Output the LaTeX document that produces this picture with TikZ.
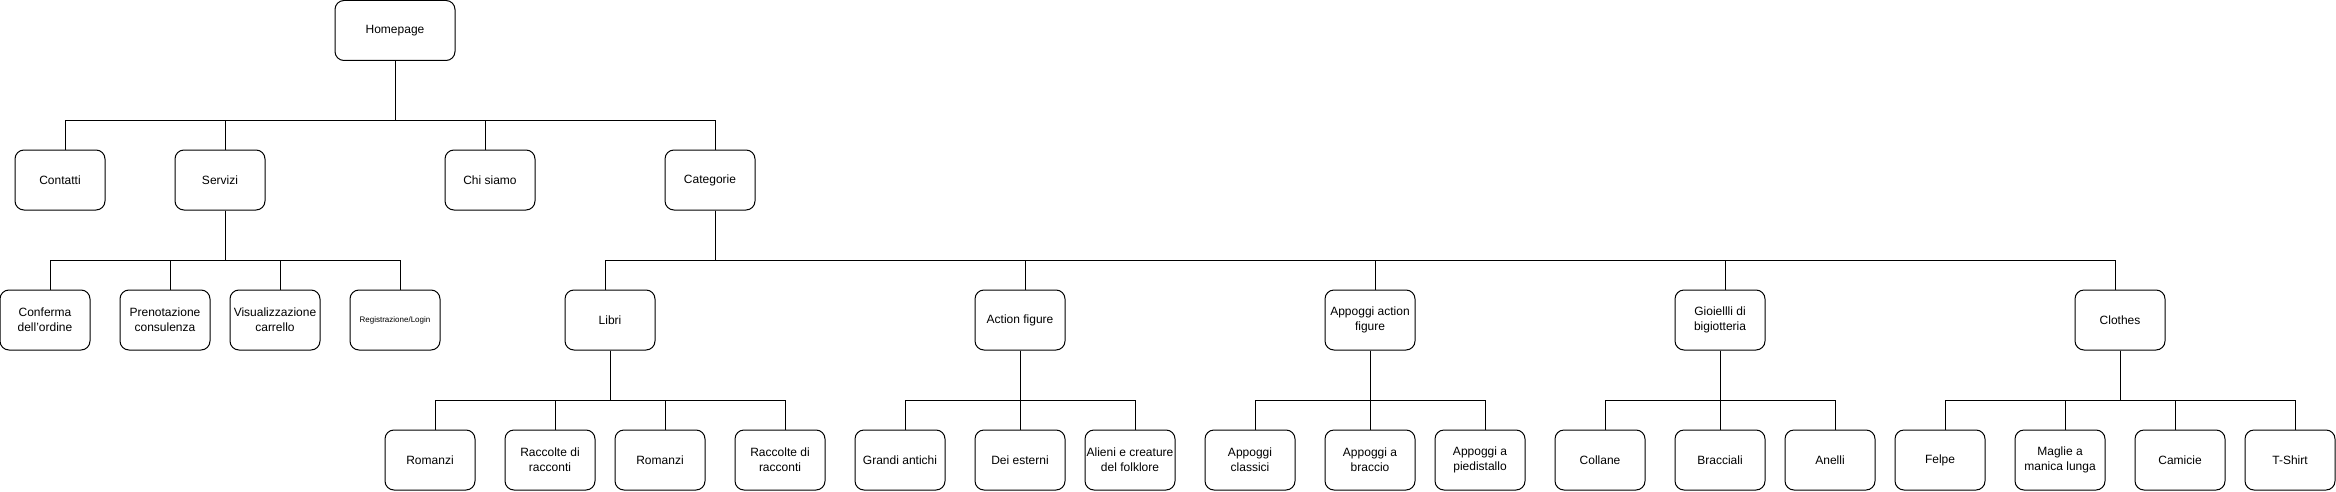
\documentclass[tikz,border=0pt]{standalone}
\usepackage{fontspec}
\setmainfont{Liberation Sans}
\usetikzlibrary{positioning}

\begin{document}
\begin{tikzpicture}[x=1pt, y=-1pt, align=center]
    \tikzset{
        n/.style        =   { rectangle
                            , rounded corners=9pt
                            , text centered
                            , draw=black
                            , line width=1pt
                            , inner sep=1pt
                            , minimum width=90pt
                            , minimum height=60pt
                            , font=\fontsize{12}{15}\selectfont
        }
        , wide/.style   =   { n
                            , minimum width=120pt
        }
        , conn/.style   =   { line width=1pt
                            , draw=black
        }
    }
    \useasboundingbox (0,0) rectangle (2336,492);

    % root and first level
    \node(0)[wide] at (395,30.5) {Homepage};
    \node(1)[n] at (60,180)  {Contatti};
    \node(2)[n] at (220,180) {Servizi};
    \node(3)[n] at (490,180) {Chi siamo};
    \node(4)[n] at (710,180) {Categorie};

    % second level
    \node(5)[n]  at (45,320)   {Conferma\\dell'ordine};
    \node(6)[n]  at (165,320)  {Prenotazione\\consulenza};
    \node(7)[n]  at (275,320)  {Visualizzazione\\carrello};
    \node(8)[n, font=\fontsize{8}{10}\selectfont] at (395,320) {Registrazione/Login};
    \node(9)[n]  at (610,320)  {Libri};
    \node(10)[n] at (1020,320) {Action figure};
    \node(11)[n] at (1370,320) {Appoggi action\\figure};
    \node(12)[n] at (1720,320) {Gioiellli di\\bigiotteria};
    \node(13)[n] at (2120,320) {Clothes};

    % third level
    \node(14)[n] at (430,460)  {Romanzi};
    \node(15)[n] at (550,460)  {Raccolte di\\racconti};
    \node(16)[n] at (660,460)  {Romanzi};
    \node(17)[n] at (780,460)  {Raccolte di\\racconti};
    \node(18)[n] at (900,460)  {Grandi antichi};
    \node(19)[n] at (1020,460) {Dei esterni};
    \node(20)[n] at (1130,460) {Alieni e creature\\del folklore};
    \node(21)[n] at (1250,460) {Appoggi\\classici};
    \node(22)[n] at (1370,460) {Appoggi a\\braccio};
    \node(23)[n] at (1480,460) {Appoggi a\\piedistallo};
    \node(24)[n] at (1600,460) {Collane};
    \node(25)[n] at (1720,460) {Bracciali};
    \node(26)[n] at (1830,460) {Anelli};
    \node(27)[n] at (1940,460) {Felpe};
    \node(28)[n] at (2060,460) {Maglie a\\manica lunga};
    \node(29)[n] at (2180,460) {Camicie};
    \node(30)[n] at (2290,460) {T-Shirt};

    \draw[conn] (0.south) -- ++(0,59.5) -| ([xshift=5pt]1.north);
    \draw[conn] (0.south) -- ++(0,59.5) -| ([xshift=5pt]2.north);
    \draw[conn] (0.south) -- ++(0,59.5) -| ([xshift=-5pt]3.north);
    \draw[conn] (0.south) -- ++(0,59.5) -| ([xshift=5pt]4.north);

    \draw[conn] ([xshift=5pt]2.south) -- ++(0,50) -| ([xshift=5pt]5.north);
    \draw[conn] ([xshift=5pt]2.south) -- ++(0,50) -| ([xshift=5pt]6.north);
    \draw[conn] ([xshift=5pt]2.south) -- ++(0,50) -| ([xshift=5pt]7.north);
    \draw[conn] ([xshift=5pt]2.south) -- ++(0,50) -| ([xshift=5pt]8.north);

    \draw[conn] ([xshift=5pt]4.south) -- ++(0,50) -| ([xshift=-5pt]9.north);
    \draw[conn] ([xshift=5pt]4.south) -- ++(0,50) -| ([xshift=5pt]10.north);
    \draw[conn] ([xshift=5pt]4.south) -- ++(0,50) -| ([xshift=5pt]11.north);
    \draw[conn] ([xshift=5pt]4.south) -- ++(0,50) -| ([xshift=5pt]12.north);
    \draw[conn] ([xshift=5pt]4.south) -- ++(0,50) -| ([xshift=-5pt]13.north);

    \draw[conn] (9.south) -- ++(0,50) -| ([xshift=5pt]14.north);
    \draw[conn] (9.south) -- ++(0,50) -| ([xshift=5pt]15.north);
    \draw[conn] (9.south) -- ++(0,50) -| ([xshift=5pt]16.north);
    \draw[conn] (9.south) -- ++(0,50) -| ([xshift=5pt]17.north);

    \draw[conn] (10.south) -- ++(0,50) -| ([xshift=5pt]18.north);
    \draw[conn] (10.south) -- (19.north);
    \draw[conn] (10.south) -- ++(0,50) -| ([xshift=5pt]20.north);

    \draw[conn] (11.south) -- ++(0,50) -| ([xshift=5pt]21.north);
    \draw[conn] (11.south) -- (22.north);
    \draw[conn] (11.south) -- ++(0,50) -| ([xshift=5pt]23.north);

    \draw[conn] (12.south) -- ++(0,50) -| ([xshift=5pt]24.north);
    \draw[conn] (12.south) -- (25.north);
    \draw[conn] (12.south) -- ++(0,50) -| ([xshift=5pt]26.north);

    \draw[conn] (13.south) -- ++(0,50) -| ([xshift=5pt]27.north);
    \draw[conn] (13.south) -- ++(0,50) -| ([xshift=5pt]28.north);
    \draw[conn] (13.south) -- ++(0,50) -| ([xshift=-5pt]29.north);
    \draw[conn] (13.south) -- ++(0,50) -| ([xshift=5pt]30.north);
\end{tikzpicture}
\end{document}
